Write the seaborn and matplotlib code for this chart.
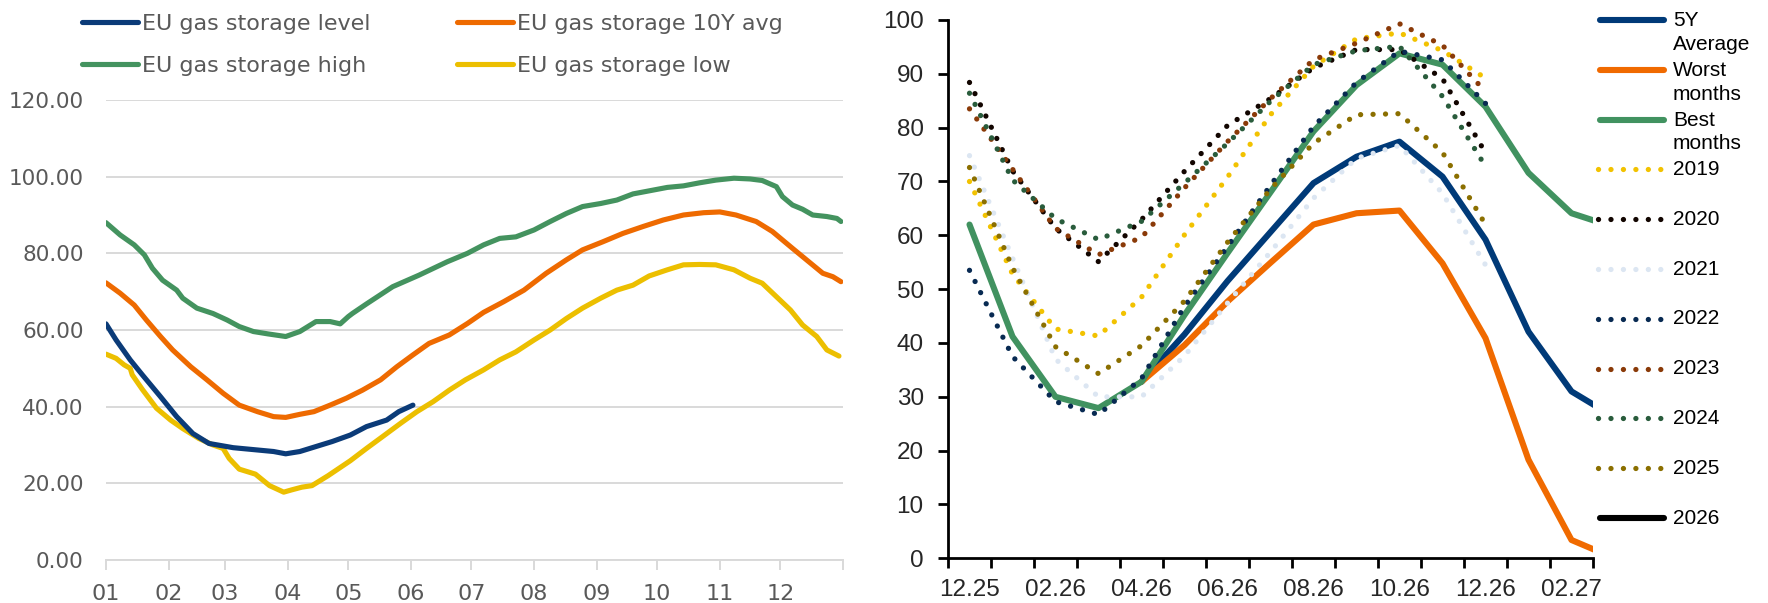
import numpy as np
import pandas as pd
import matplotlib
matplotlib.use('Agg')
import matplotlib.pyplot as plt
from matplotlib.lines import Line2D
import seaborn as sns

# ---- left chart: EU storage curves, day of year -> % full
level_days = [0, 5, 12, 18, 27, 35, 43, 51, 63, 75, 83, 89, 96, 104, 112, 121, 129, 139, 145, 152]
level_vals = [61.6, 57.4, 52.2, 48.3, 42.6, 37.4, 33.0, 30.4, 29.3, 28.7, 28.3, 27.7, 28.3, 29.6,
              30.9, 32.6, 34.8, 36.5, 38.7, 40.4]

avg10_days = [0, 7, 14, 20, 27, 33, 42, 50, 58, 66, 75, 83, 89, 96, 103, 111, 119, 127, 136, 144,
              152, 160, 170, 179, 187, 197, 207, 218, 228, 236, 246, 256, 266, 276, 286, 296, 304,
              312, 322, 330, 340, 349, 355, 360, 364]
avg10_vals = [72.3, 69.6, 66.5, 62.6, 58.3, 54.8, 50.4, 47.0, 43.5, 40.4, 38.7, 37.4, 37.2, 38.0,
              38.7, 40.4, 42.2, 44.3, 47.0, 50.4, 53.5, 56.5, 58.7, 61.7, 64.6, 67.4, 70.4, 74.8,
              78.3, 80.9, 83.0, 85.2, 87.0, 88.7, 90.0, 90.6, 90.8, 90.0, 88.3, 85.7, 81.3, 77.4,
              74.8, 73.9, 72.6]

high_days = [0, 7, 14, 19, 23, 28, 35, 38, 45, 53, 60, 66, 73, 80, 89, 96, 104, 111, 116, 120,
             122, 129, 142, 155, 169, 179, 187, 195, 203, 212, 220, 228, 236, 245, 253, 261, 269,
             278, 286, 294, 302, 311, 319, 325, 332, 335, 340, 345, 350, 357, 362, 364]
high_vals = [88.0, 84.8, 82.2, 79.6, 76.1, 73.0, 70.4, 68.3, 65.7, 64.3, 62.6, 60.9, 59.6, 59.0,
             58.3, 59.6, 62.2, 62.2, 61.6, 63.5, 64.3, 66.8, 71.3, 74.3, 77.8, 80.0, 82.2, 83.9,
             84.3, 86.1, 88.3, 90.4, 92.2, 93.0, 93.9, 95.5, 96.3, 97.2, 97.6, 98.4, 99.1, 99.6,
             99.4, 99.0, 97.4, 94.8, 92.6, 91.5, 90.0, 89.6, 89.1, 88.3]

low_days = [0, 5, 9, 12, 13, 18, 25, 32, 38, 46, 53, 58, 61, 66, 74, 81, 88, 92, 97, 102, 110,
            121, 129, 137, 146, 154, 162, 170, 178, 187, 195, 203, 212, 220, 228, 236, 245, 253,
            261, 269, 278, 286, 294, 302, 311, 319, 325, 332, 339, 345, 352, 357, 363]
low_vals = [53.7, 52.6, 50.9, 50.0, 48.3, 44.5, 39.6, 36.5, 34.3, 31.7, 30.0, 29.1, 26.5, 23.7,
            22.4, 19.4, 17.7, 18.3, 19.0, 19.4, 22.0, 25.9, 29.1, 32.2, 35.7, 38.7, 41.3, 44.3,
            47.0, 49.6, 52.2, 54.3, 57.4, 60.0, 63.0, 65.7, 68.3, 70.4, 71.7, 74.1, 75.7, 77.0,
            77.1, 77.0, 75.7, 73.5, 72.2, 68.7, 65.2, 61.3, 58.3, 54.8, 53.2]

# ---- right chart: monthly storage path (last month sits just past the axis edge)
months = ['12.25', '01.26', '02.26', '03.26', '04.26', '05.26', '06.26', '07.26',
          '08.26', '09.26', '10.26', '11.26', '12.26', '01.27', '02.27', '03.27']
nan = np.nan
avg5y = [nan, nan, nan, nan, 32.8, 41.6, 51.5, 60.6, 69.7, 74.6, 77.4, 70.9, 59.2, 42.1, 31.0, 26.2]
worst = [nan, nan, nan, nan, 32.8, 39.6, 47.7, 54.9, 62.0, 64.1, 64.6, 54.8, 40.9, 18.3, 3.4, 0.0]
best = [62.0, 41.2, 30.0, 27.9, 32.8, 45.2, 56.7, 68.0, 79.3, 87.9, 93.8, 91.7, 83.9, 71.6, 64.1, 61.5]

y2019 = [70.0, 52.8, 42.6, 41.3, 48.5, 60.1, 70.8, 82.4, 91.4, 96.5, 97.6, 94.3, 89.2]
y2020 = [88.4, 72.0, 61.3, 55.1, 62.9, 71.9, 80.4, 85.4, 91.1, 94.5, 94.5, 89.1, 75.3]
y2021 = [74.8, 55.8, 37.0, 30.0, 30.0, 37.6, 47.4, 56.9, 66.9, 74.3, 76.7, 67.8, 54.5]
y2022 = [53.5, 37.5, 29.1, 26.7, 33.4, 46.8, 57.9, 69.3, 80.2, 88.4, 94.2, 92.6, 84.5]
y2023 = [83.5, 72.3, 61.3, 56.4, 59.6, 68.8, 77.4, 85.4, 92.6, 95.7, 99.3, 95.3, 86.7]
y2024 = [86.4, 70.3, 63.1, 59.2, 62.6, 69.7, 77.1, 84.9, 91.7, 94.3, 95.1, 85.8, 72.8]
y2025 = [72.6, 54.0, 39.3, 34.3, 39.5, 47.8, 58.7, 68.6, 77.1, 82.4, 82.6, 75.4, 62.0]

W, H = 1768, 603
GREY = '#595959'
DOTS = (0, (0.01, 2.35))
DOT_LW = 3.8

sns.set_theme(style='white')
plt.rcParams['font.family'] = ['Liberation Sans', 'DejaVu Sans']


def box(x0, y0, x1, y1):
    # pixel box (top-left origin) -> figure fraction rect
    return [x0 / W, 1 - y1 / H, (x1 - x0) / W, (y1 - y0) / H]


fig = plt.figure(figsize=(W / 100, H / 100), dpi=100)
ax1 = fig.add_axes(box(106, 100, 843, 560))
ax2 = fig.add_axes(box(948, 20, 1593, 558.3))

# ---------------- left
start = pd.Timestamp('2026-01-01')


def dates(days):
    return start + pd.to_timedelta(days, unit='D')


left_series = [
    (high_days, high_vals, 'EU gas storage high', '#44935f'),
    (avg10_days, avg10_vals, 'EU gas storage 10Y avg', '#ee6a00'),
    (low_days, low_vals, 'EU gas storage low', '#ecbf00'),
    (level_days, level_vals, 'EU gas storage level', '#0b3b78'),
]
for d, v, name, c in left_series:
    sns.lineplot(x=dates(d), y=v, ax=ax1, color=c, lw=3.7, label=name,
                 solid_capstyle='round')

ax1.set_xlim(start, dates([365])[0])
ax1.set_ylim(0, 120)
ax1.set_yticks(range(0, 121, 20))
ax1.set_yticklabels([f'{t:.2f}' for t in range(0, 121, 20)])
month_starts = pd.date_range('2026-01-01', '2027-01-01', freq='MS')
ax1.set_xticks(month_starts)
ax1.set_xticklabels([m.strftime('%m') for m in month_starts[:-1]] + [''])
ax1.yaxis.grid(True, color='#d9d9d9', lw=1.4)
ax1.xaxis.grid(False)
for s in ['left', 'top', 'right']:
    ax1.spines[s].set_visible(False)
ax1.spines['bottom'].set_color('#d9d9d9')
ax1.spines['bottom'].set_linewidth(1.4)
ax1.tick_params(axis='x', length=7, width=1.4, color='#d9d9d9', labelcolor=GREY,
                labelsize=16, pad=10, bottom=True)
ax1.tick_params(axis='y', length=0, labelcolor=GREY, labelsize=15.5, pad=16)
for t in ax1.get_xticklabels() + ax1.get_yticklabels():
    t.set_family(['DejaVu Sans'])
ax1.set_xlabel('')
ax1.set_ylabel('')

h = {t.get_label(): t for t in ax1.get_lines()}
order = ['EU gas storage level', 'EU gas storage high', 'EU gas storage 10Y avg', 'EU gas storage low']
leg1 = ax1.legend([h[o] for o in order], order, ncol=2, loc='upper left',
                  bbox_to_anchor=(82 / W, 1 - 13.5 / H), bbox_transform=fig.transFigure,
                  frameon=False, borderpad=0, borderaxespad=0, handlelength=2.5,
                  handletextpad=0.2, columnspacing=3.9, labelspacing=1.02,
                  prop={'family': 'DejaVu Sans', 'size': 16})
for t in leg1.get_texts():
    t.set_color(GREY)

# ---------------- right
x = np.arange(len(months))
solid = [(avg5y, '#003a78', '5Y\nAverage'), (worst, '#f06a00', 'Worst\nmonths'),
         (best, '#419260', 'Best\nmonths')]
dotted = [(y2019, '#f2c200', '2019'), (y2020, '#120500', '2020'), (y2021, '#dce6f2', '2021'),
          (y2022, '#082a52', '2022'), (y2023, '#8a3a08', '2023'), (y2024, '#295c3c', '2024'),
          (y2025, '#8b6f00', '2025')]

for vals, c, _ in solid:
    v = np.array(vals)
    m = ~np.isnan(v)
    sns.lineplot(x=x[m], y=v[m], ax=ax2, color=c, lw=4.4, legend=False)
for vals, c, _ in dotted:
    sns.lineplot(x=x[:len(vals)], y=vals, ax=ax2, color=c, lw=DOT_LW, linestyle=DOTS,
                 dash_capstyle='round', legend=False)

ax2.set_xlim(-0.5, 14.5)
ax2.set_ylim(0, 100)
ax2.set_yticks(range(0, 101, 10))
ax2.set_xticks(np.arange(-0.5, 15, 1))
ax2.set_xticklabels([])
ax2.set_xticks(np.arange(0, 15, 2), minor=True)
ax2.set_xticklabels(months[0:15:2], minor=True)
ax2.grid(False)
for s in ['top', 'right']:
    ax2.spines[s].set_visible(False)
for s in ['left', 'bottom']:
    ax2.spines[s].set_color('black')
    ax2.spines[s].set_linewidth(2)
ax2.tick_params(axis='x', which='major', length=7, width=2, color='black', bottom=True)
ax2.tick_params(axis='x', which='minor', length=0, labelsize=17.5, pad=15, bottom=True)
ax2.tick_params(axis='y', length=7.5, width=2, color='black', labelsize=17.5, pad=10, left=True)
ax2.set_xlabel('')
ax2.set_ylabel('')

# legend on the right, evenly spaced like the original
entries = [(c, lab, '-') for _, c, lab in solid] + [(c, lab, DOTS) for _, c, lab in dotted]
entries.append(('black', '2026', '-'))
for k, (c, lab, ls) in enumerate(entries):
    yk = 20 + k * 49.8
    if ls == '-':
        xs = [1600, 1664]
    else:
        xs = [1598, 1662]
    fig.add_artist(Line2D([xs[0] / W, xs[1] / W], [1 - yk / H] * 2, transform=fig.transFigure,
                          color=c, lw=4.4 if ls == '-' else DOT_LW, linestyle=ls,
                          solid_capstyle='round', dash_capstyle='round'))
    extra = 12.5 * lab.count('\n')
    fig.text(1673 / W, 1 - (yk + extra) / H, lab, ha='left', va='center', fontsize=15,
             linespacing=1.3, color='black')

fig.savefig('out.png', dpi=100)
